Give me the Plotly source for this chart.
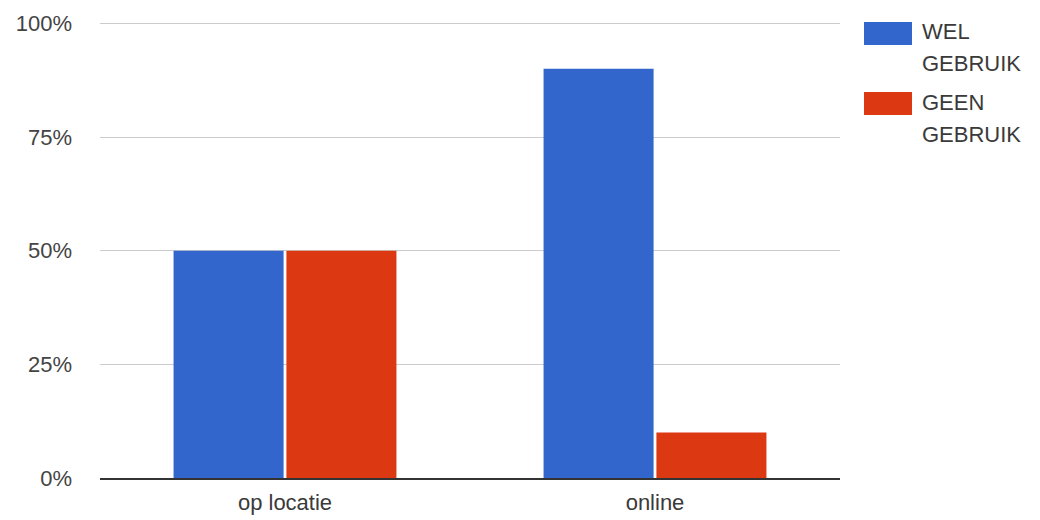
import plotly.graph_objects as go

categories = ["op locatie", "online"]
series_names = ["WEL<br>GEBRUIK", "GEEN<br>GEBRUIK"]
wel_gebruik = [50, 90]
geen_gebruik = [50, 10]
colors = ["#3366cc", "#dc3912"]
y_ticks = [0, 25, 50, 75, 100]
y_tick_labels = ["0%", "25%", "50%", "75%", "100%"]

W, H = 1040, 520
L, R, T, B = 100, 200, 22, 42
PW, PH = W - L - R, H - T - B

def px_x(px):
    return (px - L) / PW

def px_y(py):
    return (H - B - py) / PH

font = "Liberation Sans, Arial, sans-serif"
fig = go.Figure()
for name, vals, col in zip(series_names, [wel_gebruik, geen_gebruik], colors):
    fig.add_trace(go.Bar(x=categories, y=vals, name=name, marker_color=col,
                         marker_line_width=0, showlegend=False))

# manual legend
shapes = []
annotations = []
for i, (name, col) in enumerate(zip(series_names, colors)):
    top = 22 + i * 70
    shapes.append(dict(type="rect", xref="paper", yref="paper",
                       x0=px_x(864), x1=px_x(912), y0=px_y(top), y1=px_y(top + 23),
                       fillcolor=col, line_width=0))
    for j, line in enumerate(name.split("<br>")):
        annotations.append(dict(xref="paper", yref="paper", x=px_x(920),
                                y=px_y(top + 10 + j * 32), text=line, showarrow=False,
                                xanchor="left", yanchor="middle",
                                font=dict(family=font, size=22, color="#3a3a3a")))

fig.update_layout(
    width=W, height=H,
    margin=dict(l=L, r=R, t=T, b=B, autoexpand=False),
    paper_bgcolor="white", plot_bgcolor="white",
    barmode="group", bargap=0.39, bargroupgap=0.025,
    shapes=shapes, annotations=annotations,
    font=dict(family=font, size=22, color="#444444"),
)
fig.update_xaxes(range=[-0.5, 1.5], showline=True, linecolor="#333333", linewidth=1.5,
                 ticks="", showgrid=False, tickfont=dict(size=22, color="#3a3a3a"),
                 ticklabelstandoff=4, automargin=False)
fig.update_yaxes(range=[0, 100.3], tickvals=y_ticks, ticktext=y_tick_labels,
                 showgrid=True, gridcolor="#cccccc", gridwidth=1, zeroline=False,
                 showline=False, ticks="", ticklabelstandoff=27, automargin=False,
                 tickfont=dict(size=22, color="#444444"))

fig.write_html("out.html", config={"displayModeBar": False},
               post_script="document.body.style.margin='0';")
